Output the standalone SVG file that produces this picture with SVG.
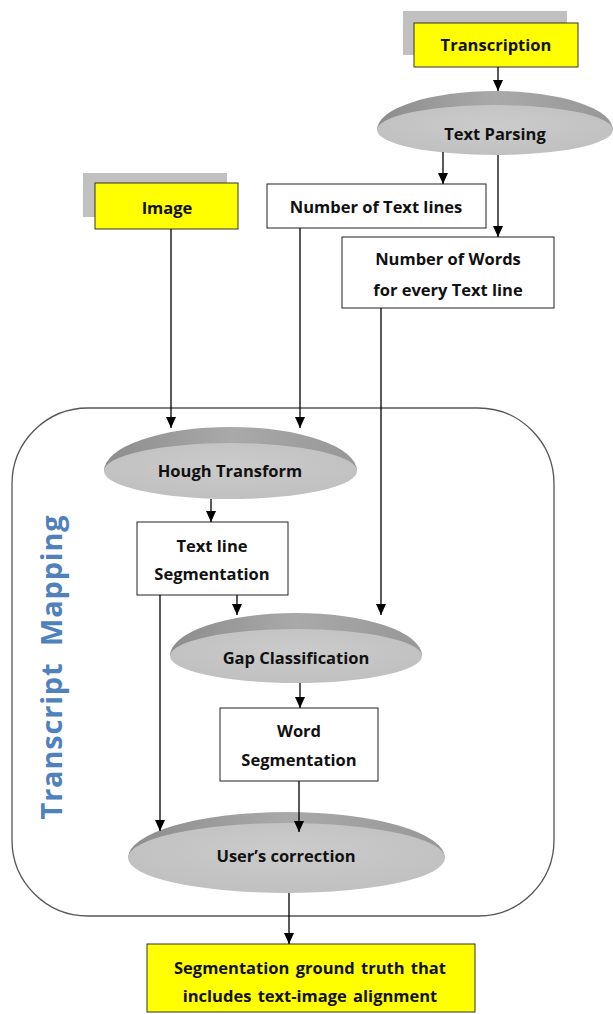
<svg xmlns="http://www.w3.org/2000/svg" width="613" height="1014" viewBox="0 0 613 1014">
<defs>
<linearGradient id="bev" x1="0" y1="0" x2="1" y2="0">
<stop offset="0" stop-color="#8c8c8c"/>
<stop offset="0.5" stop-color="#a9a9a9"/>
<stop offset="1" stop-color="#979797"/>
</linearGradient>
<radialGradient id="face" cx="0.5" cy="0.4" r="0.6">
<stop offset="0" stop-color="#cbcbcb"/>
<stop offset="1" stop-color="#c0c0c0"/>
</radialGradient>
<marker id="arr" markerUnits="userSpaceOnUse" markerWidth="12" markerHeight="12" refX="11" refY="5" orient="auto">
<path d="M0,0 L11,5 L0,10 z" fill="#000"/>
</marker>
</defs>
<style>
.t{font-family:"Open Sans","Liberation Sans",sans-serif;font-weight:700;font-size:16.5px;fill:#111;text-anchor:middle;dominant-baseline:central}
.box{fill:#fff;stroke:#222;stroke-width:1}
.yel{fill:#ffff00;stroke:#333;stroke-width:1}
.shd{fill:#c0c0c0}
.bev{fill:url(#bev)}
.face{fill:url(#face)}
.c line{stroke:#000;stroke-width:1.3;marker-end:url(#arr)}
</style>
<rect width="613" height="1014" fill="#fff"/>

<g id="container">
<rect x="12" y="408" width="542" height="508" rx="76" ry="76" fill="none" stroke="#555" stroke-width="1.3"/>
<text transform="translate(62,667) rotate(-90)" font-family="'Open Sans','Liberation Sans',sans-serif" font-weight="700" font-size="29" fill="#4f81bd" text-anchor="middle" letter-spacing="0.8" xml:space="preserve">Transcript  Mapping</text>
</g>

<g id="transcription">
<rect class="shd" x="403" y="11" width="164" height="44"/>
<rect class="yel" x="414" y="23" width="164" height="44"/>
<text class="t" x="496" y="44">Transcription</text>
</g>

<g id="text-parsing">
<path class="bev" d="M377,130 A118,39 0 0 1 613,130 Z"/>
<ellipse class="face" cx="495" cy="130" rx="118" ry="25"/>
<text class="t" x="495" y="133">Text Parsing</text>
</g>

<g id="image">
<rect class="shd" x="83" y="173" width="144" height="44"/>
<rect class="yel" x="95" y="183" width="143" height="46"/>
<text class="t" x="167" y="207">Image</text>
</g>

<g id="num-lines">
<rect class="box" x="267" y="184" width="219" height="44"/>
<text class="t" x="376" y="206">Number of Text lines</text>
</g>

<g id="num-words">
<rect class="box" x="342" y="237" width="212" height="71"/>
<text class="t" x="448" y="258">Number of Words</text>
<text class="t" x="448" y="289">for every Text line</text>
</g>

<g id="hough">
<path class="bev" d="M104,471 A126.5,44 0 0 1 357,471 Z"/>
<ellipse class="face" cx="230.5" cy="471" rx="126.5" ry="28"/>
<text class="t" x="230" y="470">Hough Transform</text>
</g>

<g id="textline-seg">
<rect class="box" x="137" y="522" width="151" height="73"/>
<text class="t" x="212" y="545">Text line</text>
<text class="t" x="212" y="573">Segmentation</text>
</g>

<g id="gap">
<path class="bev" d="M170,656 A126,43 0 0 1 422,656 Z"/>
<ellipse class="face" cx="296" cy="656" rx="126" ry="27"/>
<text class="t" x="296" y="657">Gap Classification</text>
</g>

<g id="word-seg">
<rect class="box" x="220" y="708" width="158" height="73"/>
<text class="t" x="299" y="730">Word</text>
<text class="t" x="299" y="759">Segmentation</text>
</g>

<g id="user">
<path class="bev" d="M128,858 A158.5,46 0 0 1 445,858 Z"/>
<ellipse class="face" cx="286.5" cy="858" rx="158.5" ry="35"/>
<text class="t" x="286" y="855">User’s correction</text>
</g>

<g id="result">
<rect class="yel" x="147" y="944" width="328" height="68"/>
<text class="t" x="310" y="967" word-spacing="2">Segmentation ground truth that</text>
<text class="t" x="310" y="995" word-spacing="2">includes text-image alignment</text>
</g>

<g class="c" id="connectors">
<line x1="498" y1="67" x2="498" y2="91"/>
<line x1="443" y1="152" x2="443" y2="184"/>
<line x1="498" y1="155" x2="498" y2="237"/>
<line x1="171" y1="229" x2="171" y2="428"/>
<line x1="300" y1="228" x2="300" y2="428"/>
<line x1="381" y1="308" x2="381" y2="615"/>
<line x1="211" y1="499" x2="211" y2="522"/>
<line x1="237" y1="595" x2="237" y2="615"/>
<line x1="160" y1="595" x2="160" y2="831"/>
<line x1="300" y1="683" x2="300" y2="708"/>
<line x1="299" y1="781" x2="299" y2="832"/>
<line x1="289" y1="893" x2="289" y2="944"/>
</g>
</svg>
